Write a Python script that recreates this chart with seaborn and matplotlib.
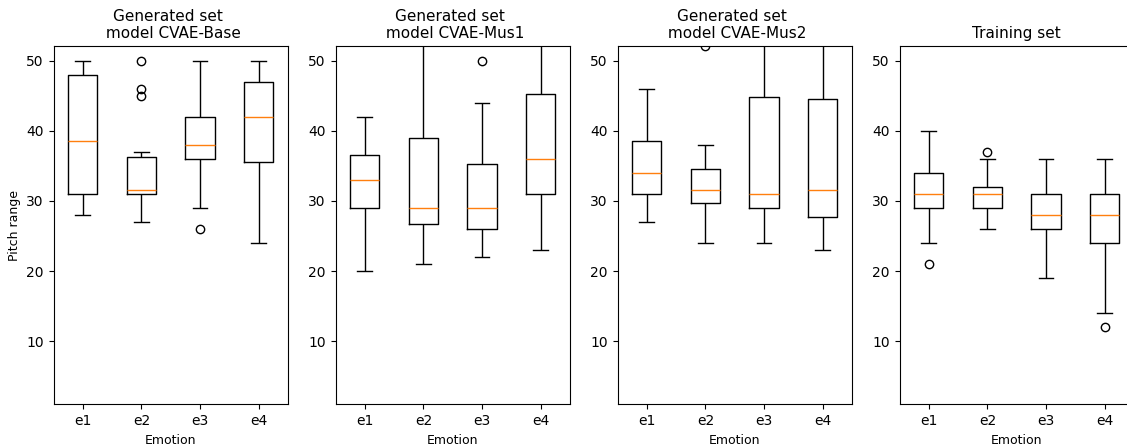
import pandas as pd
import matplotlib
matplotlib.use("Agg")
import matplotlib.pyplot as plt
import seaborn as sns

emotions = ["e1", "e2", "e3", "e4"]
titles = ["Generated set \n model CVAE-Base", "Generated set \n model CVAE-Mus1",
          "Generated set \n model CVAE-Mus2", "Training set"]

# pitch range samples per emotion
cvae_base = [
    [28, 31, 38.5, 48, 50],
    [27, 29, 30, 30.5, 31, 31, 31.2, 31.4, 31.5, 33, 35, 36, 36.25, 37, 45, 46, 50],
    [26, 29, 36, 37, 38, 40, 42, 46, 50],
    [24, 35.5, 42, 47, 50],
]
cvae_mus1 = [
    [20, 29, 33, 36.5, 42],
    [21, 26.75, 29, 39, 55],
    [22, 24, 26, 27, 29, 32, 35.25, 44, 50],
    [23, 31, 36, 45.25, 58],
]
cvae_mus2 = [
    [27, 31, 34, 38.5, 46],
    [24, 27, 29.75, 30.5, 31.5, 33, 34.5, 38, 52],
    [24, 29, 31, 44.75, 58],
    [23, 27.75, 31.5, 44.5, 58],
]
training = [
    [21, 24, 29, 30, 31, 32, 34, 37, 40],
    [26, 28, 29, 30, 31, 31.5, 32, 36, 37],
    [19, 26, 28, 31, 36],
    [12, 14, 24, 26, 28, 30, 31, 33, 36],
]

sets = [cvae_base, cvae_mus1, cvae_mus2, training]

fig = plt.figure(figsize=(11.27, 4.46), dpi=100)
W, H = 1127, 446
lefts = [53.5, 335.5, 617.5, 899.5]

for i, (groups, title) in enumerate(zip(sets, titles)):
    rows = [(e, v) for e, vals in zip(emotions, groups) for v in vals]
    df = pd.DataFrame(rows, columns=["Emotion", "Pitch range"])
    ax = fig.add_axes([lefts[i] / W, (H - 404.3) / H, 234.5 / W, (404.3 - 46.5) / H])
    sns.boxplot(data=df, x="Emotion", y="Pitch range", order=emotions, ax=ax,
                fill=False, color="black", width=0.5, linewidth=1, whis=1.5,
                fliersize=6,
                medianprops=dict(color="#ff7f0e"),
                flierprops=dict(marker="o", markerfacecolor="none",
                                markeredgecolor="black"))
    ax.set_ylim(1, 52)
    ax.set_yticks([10, 20, 30, 40, 50])
    ax.set_title(title, fontsize=11)
    ax.set_xlabel("Emotion", fontsize=9)
    if i == 0:
        ax.set_ylabel("Pitch range", fontsize=9)
    else:
        ax.set_ylabel("")

fig.savefig("out.png", dpi=100)
